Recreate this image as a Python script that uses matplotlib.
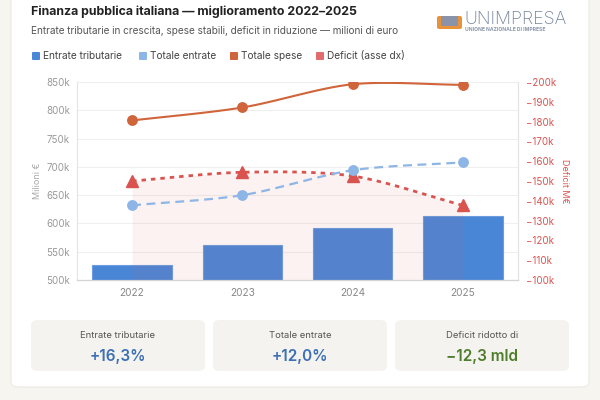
import numpy as np
import matplotlib
matplotlib.use("Agg")
import matplotlib.pyplot as plt
from matplotlib.patches import FancyBboxPatch, Rectangle

plt.rcParams['font.family'] = ['Inter', 'DejaVu Sans']

# ---------------- data ----------------
years = ["2022", "2023", "2024", "2025"]
entrate_tributarie = [527, 561, 592, 613]      # thousand M€
totale_entrate = [632, 650, 694, 708]
totale_spese = [782, 805, 846, 845]
deficit = [-150.0, -154.4, -152.5, -137.7]

left_ticks = [500, 550, 600, 650, 700, 750, 800, 850]
right_ticks = [-100, -110, -120, -130, -140, -150, -160, -170, -180, -190, -200]

stat_labels = ["Entrate tributarie", "Totale entrate", "Deficit ridotto di"]
stat_values = ["+16,3%", "+12,0%", "\u221212,3 mld"]

title = "Finanza pubblica italiana \u2014 miglioramento 2022\u20132025"
subtitle = "Entrate tributarie in crescita, spese stabili, deficit in riduzione \u2014 milioni di euro"
legend_labels = ["Entrate tributarie", "Totale entrate", "Totale spese", "Deficit (asse dx)"]

# ---------------- colours ----------------
C_BAR = "#4a86d6"
C_TOT = "#8db6e6"
C_SPESE = "#d0643a"
C_DEF = "#d9534f"
C_DEF_LEG = "#e06c6c"
BG = "#f7f5f0"

W, H = 600, 400
fig = plt.figure(figsize=(6, 4), dpi=100)
fig.patch.set_facecolor(BG)


def fx(x):
    return x / W


def fy(y):
    return 1 - y / H


# white card
card = FancyBboxPatch((fx(11), fy(387)), fx(578), fy(-20) - fy(387),
                      boxstyle="round,pad=0,rounding_size=0.012",
                      transform=fig.transFigure, facecolor="white",
                      edgecolor="#ece9e2", linewidth=0.8, zorder=-10)
fig.patches.append(card)

# title / subtitle
fig.text(fx(31), fy(12), title, fontsize=8.9, fontweight="bold", color="#222222",
         ha="left", va="center")
fig.text(fx(31), fy(31), subtitle, fontsize=7.2, color="#555555", ha="left", va="center")

# logo
fig.patches.append(FancyBboxPatch((fx(437), fy(29)), fx(25), fy(16) - fy(29),
                                  boxstyle="round,pad=0,rounding_size=0.004",
                                  transform=fig.transFigure, facecolor="#e8923a",
                                  edgecolor="none", zorder=2))
fig.patches.append(Rectangle((fx(441), fy(26)), fx(17), fy(16) - fy(26),
                             transform=fig.transFigure, facecolor="#8a93a8",
                             edgecolor="none", zorder=3))
fig.text(fx(464), fy(24.5), "UNIMPRESA", fontsize=12.8, color="#74839c", ha="left",
         va="baseline", fontweight="light")
fig.text(fx(465), fy(29.5), "UNIONE NAZIONALE DI IMPRESE", fontsize=3.6, color="#8a96aa",
         ha="left", va="center", fontweight="bold")

# legend
leg_x = [32, 139, 230, 316]
leg_c = [C_BAR, C_TOT, C_SPESE, C_DEF_LEG]
for x, c, lab in zip(leg_x, leg_c, legend_labels):
    fig.patches.append(FancyBboxPatch((fx(x), fy(60)), fx(8), fy(52) - fy(60),
                                      boxstyle="round,pad=0,rounding_size=0.002",
                                      transform=fig.transFigure, facecolor=c,
                                      edgecolor="none"))
    fig.text(fx(x + 11), fy(56), lab, fontsize=7.3, color="#444444", ha="left",
             va="center")

# ---------------- axes ----------------
ax = fig.add_axes([fx(77), fy(280), fx(441), fy(82) - fy(280)])
ax.set_facecolor("none")
ax2 = ax.twinx()

xpos = np.arange(len(years))
ax.set_xlim(-0.5, len(years) - 0.5)
ax.set_ylim(500, 850)
ax2.set_ylim(-100, -200)

ax.set_yticks(left_ticks)
ax.set_yticklabels([f"{v}k" for v in left_ticks])
ax2.set_yticks(right_ticks)
ax2.set_yticklabels([f"\u2212{abs(v)}k" for v in right_ticks])
ax.set_xticks(xpos)
ax.set_xticklabels(years)

ax.tick_params(axis="y", length=0, pad=5, labelsize=7, labelcolor="#999999")
ax.tick_params(axis="x", length=0, pad=6, labelsize=7.3, labelcolor="#888888")
ax2.tick_params(axis="y", length=0, pad=6, labelsize=7, labelcolor=C_DEF)

ax.grid(axis="y", color="#efefef", linewidth=0.8, zorder=0)
ax.set_axisbelow(True)
for a in (ax, ax2):
    a.spines["top"].set_visible(False)
    a.spines["left"].set_color("#e4e4e4")
    a.spines["right"].set_color("#e4e4e4")
    a.spines["bottom"].set_color("#d4d4d4")
ax2.spines["left"].set_visible(False)

ax.set_ylabel("Milioni \u20ac", fontsize=6.5, color="#aaaaaa", labelpad=3)
ax2.set_ylabel("Deficit M\u20ac", fontsize=6.5, color=C_DEF, rotation=270, labelpad=9)

# bars
ax.bar(xpos, [v - 500 for v in entrate_tributarie], bottom=500, width=0.72,
       color=C_BAR, edgecolor="#6b9de0", linewidth=0.8, zorder=2)

fig.canvas.draw()


def spline(a, xs, ys, tension=0.3, n=40):
    """Chart.js-style bezier spline computed in pixel space; returns ax2 data coords."""
    pts = a.transData.transform(np.column_stack([xs, ys]))
    m = len(pts)
    cps_prev, cps_next = [], []
    for i in range(m):
        p0 = pts[max(i - 1, 0)]
        p1 = pts[i]
        p2 = pts[min(i + 1, m - 1)]
        d01 = np.hypot(*(p1 - p0))
        d12 = np.hypot(*(p2 - p1))
        tot = d01 + d12
        s01 = d01 / tot if tot else 0
        s12 = d12 / tot if tot else 0
        cps_prev.append(p1 - tension * s01 * (p2 - p0))
        cps_next.append(p1 + tension * s12 * (p2 - p0))
    out = [pts[0]]
    t = np.linspace(0, 1, n)[1:, None]
    for i in range(m - 1):
        P0, P1, P2, P3 = pts[i], cps_next[i], cps_prev[i + 1], pts[i + 1]
        seg = ((1 - t) ** 3) * P0 + 3 * ((1 - t) ** 2) * t * P1 \
            + 3 * (1 - t) * t ** 2 * P2 + t ** 3 * P3
        out.extend(seg)
    out = np.array(out)
    data = ax2.transData.inverted().transform(out)
    marks = ax2.transData.inverted().transform(pts)
    return data[:, 0], data[:, 1], marks[:, 0], marks[:, 1]


# deficit fill (on top of bars)
dx, dy, mx, my = spline(ax2, xpos, deficit)
ax2.fill_between(dx, dy, -100, color=C_DEF, alpha=0.07, linewidth=0, zorder=1)
ax2.plot(dx, dy, color=C_DEF, linewidth=2, linestyle=(0, (1.6, 1.8)), zorder=3)
ax2.plot(mx, my, linestyle="none", marker="^", markersize=8, color=C_DEF, zorder=4)

# totale entrate
ex, ey, mx, my = spline(ax, xpos, totale_entrate)
ax2.plot(ex, ey, color=C_TOT, linewidth=1.6, linestyle=(0, (4, 2.5)), zorder=3)
ax2.plot(mx, my, linestyle="none", marker="o", markersize=6.8, color=C_TOT, zorder=4)

# totale spese
sx, sy, mx, my = spline(ax, xpos, totale_spese)
ax2.plot(sx, sy, color=C_SPESE, linewidth=1.5, zorder=3)
ax2.plot(mx, my, linestyle="none", marker="o", markersize=6.8, color=C_SPESE, zorder=4)

# ---------------- stat boxes ----------------
box_x = [31, 213, 395]
for x, lab, val, col in zip(box_x, stat_labels, stat_values, ["#3b6fb6", "#3b6fb6", "#4f7d2b"]):
    fig.patches.append(FancyBboxPatch((fx(x), fy(371)), fx(174), fy(320) - fy(371),
                                      boxstyle="round,pad=0,rounding_size=0.012",
                                      transform=fig.transFigure, facecolor="#f4f3ef",
                                      edgecolor="none"))
    fig.text(fx(x + 87), fy(336), lab, fontsize=6.8, color="#555555", ha="center", va="center")
    fig.text(fx(x + 87), fy(356), val, fontsize=11, color=col, ha="center", va="center",
             fontweight="semibold")

fig.savefig("out.png", dpi=100, facecolor=BG)
